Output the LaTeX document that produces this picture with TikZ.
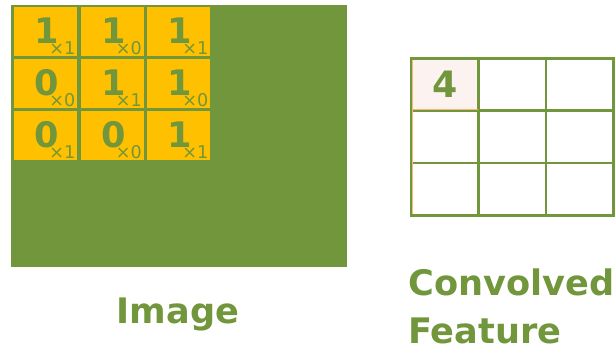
\documentclass[tikz,border=0pt]{standalone}
\usepackage{fontspec}
\setmainfont{DejaVu Sans}
\definecolor{imggreen}{HTML}{71963C}
\definecolor{kernyellow}{HTML}{FFC000}
\definecolor{featpink}{HTML}{FCF2EF}
\definecolor{featorange}{HTML}{F8B878}
\tikzset{
  cell/.style={fill=kernyellow,minimum width=1.89cm,minimum height=1.47cm,inner sep=0pt,anchor=north west},
  bignum/.style={text=imggreen,font=\bfseries\fontsize{30}{30}\selectfont,inner sep=0pt,anchor=base},
  wnum/.style={text=imggreen,font=\fontsize{15}{15}\selectfont,inner sep=0pt,anchor=base east},
  fcell/.style={draw=imggreen,line width=2.3pt,minimum width=2.02cm,minimum height=1.57cm,inner sep=0pt,anchor=north west},
  caption/.style={text=imggreen,font=\bfseries\fontsize{30}{41}\selectfont,inner sep=0pt}
}

\begin{document}
\begin{tikzpicture}[x=0.03cm,y=0.03cm]
\useasboundingbox (0,0) rectangle (616,352);
\fill[imggreen] (11,85) rectangle (347,347);
\foreach \v/\w [count=\i from 0] in {1/1,1/0,1/1,0/0,1/1,1/0,0/1,0/0,1/1} {
  \pgfmathtruncatemacro\col{mod(\i,3)}
  \pgfmathtruncatemacro\row{div(\i,3)}
  \node[cell] (k\i) at (14+66.5*\col,345-52*\row) {};
  \node[bignum] (n\i) at ([shift={(1,13)}]k\i.south) {\v};
  \node[wnum] (w\i) at ([shift={(-2,2)}]k\i.south east) {×\w};
}
\fill[featpink] (410,295) rectangle (477,243);
\foreach \r in {0,1,2}
  \foreach \c in {0,1,2}
    \node[fcell] (f\r\c) at (410+67.33*\c,295-52.33*\r) {};
\draw[featorange,line width=0.6pt] ([shift={(2.5,-2.5)}]f00.north west) -- ([shift={(2.5,2.5)}]f20.south west);
\draw[featorange,line width=0.6pt] ([shift={(2.5,2.5)}]f00.south west) -- ([shift={(-2.5,2.5)}]f00.south east);
\node[bignum,anchor=center,font=\bfseries\fontsize{31}{31}\selectfont] (four) at (f00.center) {4};
\node[caption,anchor=base] (imglbl) at (178,29) {Image};
\node[caption,anchor=base west] (convlbl) at (408,57) {Convolved};
\node[caption,anchor=base west] (featlbl) at (408,9) {Feature};
\end{tikzpicture}
\end{document}
